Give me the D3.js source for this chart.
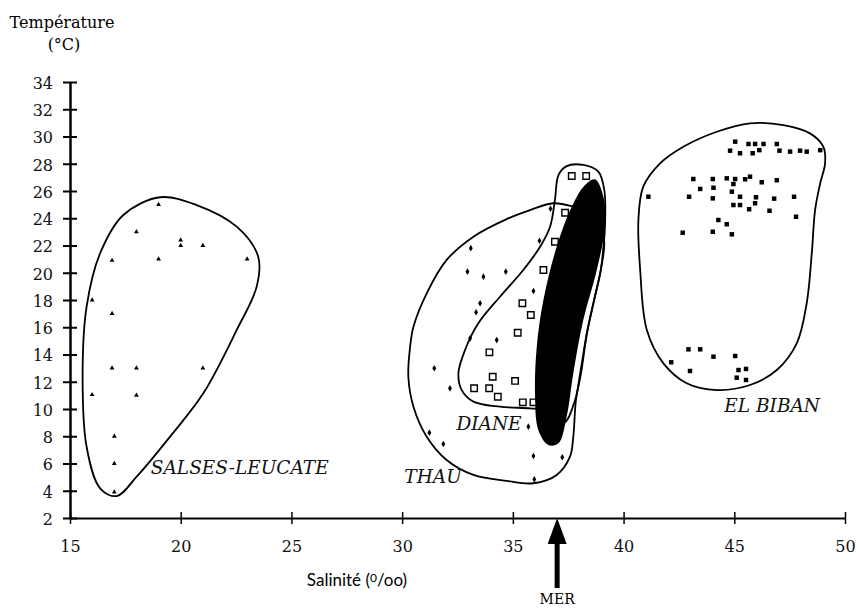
<!DOCTYPE html>
<html>
  <head>
    <meta charset="utf-8">
    <title>Température / Salinité</title>
    <script src="https://d3js.org/d3.v7.min.js"></script>
    <style>
      body { margin: 0; background: #fff; }
      svg { display: block; }
      .tick text { font-family: "DejaVu Serif", serif; font-size: 16px; fill: #111; }
      .lbl { font-family: "DejaVu Serif", serif; font-size: 18.5px; font-style: italic; fill: #111; }
    </style>
  </head>
  <body>
    <svg></svg>
    <script>
      // ticks
      var xTicks = [15, 20, 25, 30, 35, 40, 45, 50];
      var yTicks = [2, 4, 6, 8, 10, 12, 14, 16, 18, 20, 22, 24, 26, 28, 30, 32, 34];
      var merSalinity = 37;

      // SALSES-LEUCATE [salinité, température]
      var salses = [[19, 25], [18, 23], [20, 22.4], [20, 22], [21, 22], [16.9, 20.9], [19, 21], [23, 21],
        [16, 18], [16.9, 17], [16.9, 13], [18, 13], [21, 13], [16, 11.05], [18, 11], [17, 8], [17, 6], [17, 3.9]];
      var salsesOutline = [[19.07, 25.54], [20.72, 24.97], [22.53, 23.38], [23.5, 21.18], [23.43, 18.98],
        [22.53, 15.8], [21.02, 11.15], [19.52, 7.97], [18.01, 5.03], [17.11, 3.61], [16.36, 4.18],
        [15.75, 7.23], [15.57, 12.62], [15.75, 17.51], [16.36, 21.43], [17.41, 24.24]];

      // THAU
      var thau = [[36.7, 24.7], [33.1, 21.8], [36.2, 22.35], [32.95, 20.08], [33.67, 19.71], [34.68, 20.08],
        [35.93, 18.66], [33.52, 17.76], [33.34, 17.1], [33.07, 15.19], [34.27, 15.06], [31.45, 12.99],
        [32.16, 11.52], [35.7, 8.7], [31.23, 8.26], [31.86, 7.43], [35.93, 6.55], [37.23, 6.46], [35.97, 4.84]];
      var thauOutline = [[36.83, 25.1], [37.73, 24.85], [38.71, 24.24], [39.12, 22.4], [38.97, 20.2],
        [38.67, 18.0], [38.35, 15.58], [38.08, 12.64], [37.85, 10.66], [37.73, 7.97], [37.58, 6.5],
        [36.98, 5.16], [35.93, 4.55], [34.72, 4.72], [33.22, 5.16], [32.01, 6.26], [31.11, 7.97],
        [30.51, 10.17], [30.28, 12.37], [30.36, 14.57], [30.51, 16.04], [31.11, 18.49], [32.01, 20.94],
        [33.22, 22.65], [34.72, 23.94], [35.78, 24.6]];

      // DIANE
      var diane = [[37.66, 27.1], [38.31, 27.1], [37.36, 24.4], [36.9, 22.28], [36.38, 20.2], [35.43, 17.76],
        [35.81, 16.9], [35.22, 15.6], [33.94, 14.16], [34.09, 12.37], [35.1, 12.06], [33.25, 11.52],
        [33.93, 11.52], [34.32, 10.9], [35.45, 10.49], [35.93, 10.49]];
      var dianeOutline = [[37.06, 27.17], [37.43, 27.83], [38.18, 27.91], [38.86, 27.42], [39.13, 26.07],
        [39.16, 23.38], [39.09, 21.91], [38.97, 20.2], [38.67, 18.0], [38.34, 15.56], [38.04, 12.62],
        [37.81, 10.66], [37.28, 8.95], [36.38, 9.93], [35.78, 10.05], [34.42, 10.17], [33.22, 10.54],
        [32.69, 11.39], [32.54, 12.62], [32.84, 14.33], [33.44, 16.29], [34.42, 18.24], [35.47, 20.2],
        [36.23, 21.91], [36.68, 23.38], [36.9, 25.34]];

      // MER
      var merOutline = [[38.71, 26.86], [39.09, 25.58], [39.16, 23.38], [38.79, 20.2], [38.18, 16.53],
        [37.73, 12.62], [37.43, 9.43], [37.06, 7.48], [36.6, 7.36], [36.15, 8.46], [36.0, 11.15],
        [36.08, 14.57], [36.38, 18.0], [36.98, 21.91], [37.66, 24.85], [38.26, 26.44]];

      // EL BIBAN
      var biban = [[45.04, 29.62], [45.64, 29.45], [45.94, 29.45], [46.32, 29.45], [46.92, 29.45],
        [44.81, 28.96], [45.26, 28.77], [45.83, 28.77], [46.13, 29.0], [47.04, 28.96], [47.52, 28.89],
        [47.97, 28.96], [48.27, 28.89], [48.88, 29.0],
        [43.15, 26.88], [44.03, 26.88], [44.66, 26.93], [45.04, 26.88], [45.49, 26.86], [45.71, 27.05],
        [46.24, 26.64], [46.92, 26.79], [44.96, 26.51], [43.46, 26.15], [44.06, 26.24], [44.89, 25.95],
        [41.12, 25.58], [42.96, 25.58], [44.03, 25.46], [45.26, 25.58], [45.98, 25.54], [46.8, 25.44],
        [47.7, 25.58], [44.96, 24.97], [45.26, 24.97], [45.94, 25.1], [45.67, 24.66], [46.59, 24.55],
        [47.79, 24.11], [44.28, 23.87], [44.66, 23.56], [42.67, 22.94], [44.03, 23.01], [44.89, 22.82],
        [42.93, 14.38], [43.46, 14.38], [44.06, 13.84], [45.04, 13.89], [42.15, 13.43], [43.0, 12.79],
        [45.19, 12.86], [45.53, 12.94], [45.11, 12.3], [45.53, 12.13]];
      var bibanOutline = [[45.71, 30.97], [47.22, 30.84], [48.42, 30.23], [49.02, 29.25], [49.1, 28.03],
        [48.88, 26.57], [48.65, 24.61], [48.5, 21.43], [48.27, 17.76], [47.82, 14.82], [46.92, 12.86],
        [45.71, 11.76], [44.21, 11.39], [42.85, 11.89], [41.8, 13.35], [41.05, 15.8], [40.75, 20.2],
        [40.67, 23.87], [40.89, 26.32], [41.65, 28.03], [42.7, 29.25], [44.21, 30.35]];

      // label anchors [salinité, température]
      var labels = [
        {text: "SALSES-LEUCATE", at: [18.65, 5.2]},
        {text: "THAU", at: [30.1, 4.55]},
        {text: "DIANE", at: [32.45, 8.45]},
        {text: "EL BIBAN", at: [44.55, 9.8]}
      ];

      var svg = d3.select("svg")
        .attr("width", 860)
        .attr("height", 611);

      var x = d3.scaleLinear().domain([15, 50]).range([70, 845]);
      var y = d3.scaleLinear().domain([2, 34]).range([518, 82]);

      // axes
      var xAxis = svg.append("g")
        .attr("transform", "translate(0," + y(2) + ")")
        .call(d3.axisBottom(x).tickValues(xTicks).tickSize(6).tickPadding(17).tickSizeOuter(0));
      xAxis.selectAll(".tick line").attr("y1", -6).attr("stroke-width", 1.5);
      xAxis.select(".domain").attr("stroke-width", 2);

      var yAxis = svg.append("g")
        .attr("transform", "translate(" + x(15) + ",0)")
        .call(d3.axisLeft(y).tickValues(yTicks).tickSize(7).tickPadding(10).tickSizeOuter(0));
      yAxis.selectAll(".tick line").attr("x1", 7).attr("stroke-width", 2);
      yAxis.selectAll(".tick text").attr("dy", "0.4em");
      yAxis.select(".domain").attr("stroke-width", 2.5);

      // axis titles
      svg.append("text").attr("x", 62).attr("y", 28).attr("text-anchor", "middle")
        .style("font-family", "DejaVu Serif, serif").style("font-size", "16px")
        .text("Température");
      svg.append("text").attr("x", 64).attr("y", 50).attr("text-anchor", "middle")
        .style("font-family", "DejaVu Serif, serif").style("font-size", "16px")
        .text("(°C)");

      var salTitle = svg.append("text").attr("x", 357).attr("y", 586).attr("text-anchor", "middle")
        .style("font-family", "Lato, sans-serif").style("font-size", "17px");
      salTitle.append("tspan").text("Salinité (");
      salTitle.append("tspan").attr("dy", -4).style("font-size", "12px").text("0");
      salTitle.append("tspan").attr("dy", 4).text("/oo)");

      // MER arrow
      var ax = x(merSalinity), ay = y(2);
      svg.append("path")
        .attr("d", "M" + ax + "," + ay + "L" + (ax + 9.5) + "," + (ay + 26) + "L" + (ax + 2.5) + "," + (ay + 26) +
          "L" + (ax + 2.5) + "," + (ay + 70) + "L" + (ax - 2.5) + "," + (ay + 70) + "L" + (ax - 2.5) + "," + (ay + 26) +
          "L" + (ax - 9.5) + "," + (ay + 26) + "Z")
        .attr("fill", "#000");
      svg.append("text").attr("x", ax).attr("y", 604).attr("text-anchor", "middle")
        .style("font-family", "DejaVu Serif, serif").style("font-size", "14px")
        .text("MER");

      var blob = d3.line()
        .x(function(d) { return x(d[0]); })
        .y(function(d) { return y(d[1]); })
        .curve(d3.curveCatmullRomClosed.alpha(0.5));

      // outlines
      [salsesOutline, thauOutline, dianeOutline, bibanOutline].forEach(function(o) {
        svg.append("path").attr("d", blob(o))
          .attr("fill", "none").attr("stroke", "#000").attr("stroke-width", 1.8);
      });

      // points
      function drawPoints(data, type, size, fill, stroke) {
        svg.append("g").selectAll("path")
          .data(data)
          .enter().append("path")
            .attr("transform", function(d) { return "translate(" + x(d[0]) + "," + y(d[1]) + ")"; })
            .attr("d", d3.symbol().type(type).size(size))
            .attr("fill", fill)
            .attr("stroke", stroke)
            .attr("stroke-width", stroke == "none" ? 0 : 1.4);
      }
      drawPoints(salses, d3.symbolTriangle, 10, "#000", "none");
      drawPoints(thau, d3.symbolDiamond, 13, "#000", "none");
      drawPoints(diane, d3.symbolSquare, 42, "#fff", "#000");
      drawPoints(biban, d3.symbolSquare, 20, "#000", "none");

      // MER blob on top
      svg.append("path").attr("d", blob(merOutline)).attr("fill", "#000");

      // region names
      svg.selectAll(".lbl")
        .data(labels)
        .enter().append("text")
          .attr("class", "lbl")
          .attr("x", function(d) { return x(d.at[0]); })
          .attr("y", function(d) { return y(d.at[1]); })
          .text(function(d) { return d.text; });
    </script>
  </body>
</html>
